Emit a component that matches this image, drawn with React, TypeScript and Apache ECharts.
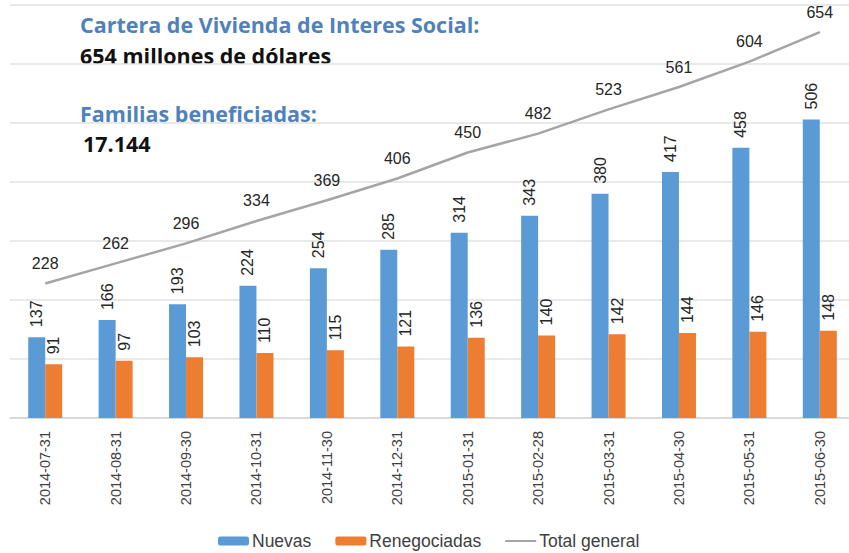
import React, { useEffect, useRef } from "react";
import * as echarts from "echarts";

const categories = [
  "2014-07-31", "2014-08-31", "2014-09-30", "2014-10-31", "2014-11-30", "2014-12-31",
  "2015-01-31", "2015-02-28", "2015-03-31", "2015-04-30", "2015-05-31", "2015-06-30",
];
const nuevas = [137, 166, 193, 224, 254, 285, 314, 343, 380, 417, 458, 506];
const renegociadas = [91, 97, 103, 110, 115, 121, 136, 140, 142, 144, 146, 148];
const totalGeneral = [228, 262, 296, 334, 369, 406, 450, 482, 523, 561, 604, 654];

const titleLines = [
  { text: "Cartera de Vivienda de Interes Social:", color: "#4F81BD", x: 80, y: 24 },
  { text: "654 millones de dólares", color: "#111111", x: 80, y: 55 },
  { text: "Familias beneficiadas:", color: "#4F81BD", x: 80, y: 113 },
  { text: "17.144", color: "#111111", x: 83, y: 143 },
];

const FONT = "Liberation Sans, Arial, sans-serif";

export default function App() {
  const ref = useRef<HTMLDivElement>(null);
  useEffect(() => {
    if (!ref.current) return;
    const chart = echarts.init(ref.current, null, { renderer: "svg" });
    const barLabel = {
      show: true,
      position: "top",
      rotate: 90,
      align: "left",
      verticalAlign: "middle",
      distance: 10,
      fontFamily: FONT,
      fontSize: 16,
      color: "#262626",
    };
    chart.setOption({
      animation: false,
      backgroundColor: "#ffffff",
      grid: { left: 10, width: 845, top: 5, bottom: 135, containLabel: false },
      legend: {
        top: 532,
        left: 218,
        padding: 0,
        itemWidth: 31,
        itemHeight: 9,
        itemGap: 24,
        textStyle: { fontFamily: FONT, fontSize: 17.5, color: "#404040", padding: [0, 0, 0, -2] },
        data: [
          { name: "Nuevas" },
          { name: "Renegociadas" },
          { name: "Total general", icon: "path://M0 0 H31 V2 H0 Z" },
        ],
      },
      xAxis: {
        type: "category",
        data: categories,
        axisLine: { lineStyle: { color: "#d4d4d4", width: 1.5 } },
        axisTick: { show: false },
        axisLabel: {
          rotate: 90,
          margin: 13,
          fontFamily: FONT,
          fontSize: 14.5,
          color: "#404040",
        },
      },
      yAxis: {
        type: "value",
        min: 0,
        max: 700,
        interval: 100,
        axisLabel: { show: false },
        axisLine: { show: false },
        axisTick: { show: false },
        splitLine: { lineStyle: { color: "#e2e2e2", width: 1.5 } },
      },
      series: [
        {
          name: "Nuevas",
          type: "bar",
          data: nuevas,
          barWidth: 17,
          barGap: "0%",
          itemStyle: { color: "#5B9BD5" },
          label: barLabel,
        },
        {
          name: "Renegociadas",
          type: "bar",
          data: renegociadas,
          barWidth: 17,
          barGap: "0%",
          itemStyle: { color: "#ED7D31" },
          label: barLabel,
        },
        {
          name: "Total general",
          type: "line",
          data: totalGeneral,
          symbol: "circle",
          symbolSize: 0.01,
          showSymbol: true,
          lineStyle: { color: "#A5A5A5", width: 2.5 },
          itemStyle: { color: "#A5A5A5" },
          label: {
            show: true,
            position: "top",
            distance: 12,
            fontFamily: FONT,
            fontSize: 16,
            color: "#262626",
          },
        },
      ],
      graphic: titleLines.map((t) => ({
        type: "text",
        x: t.x,
        y: t.y,
        style: {
          text: t.text,
          fill: t.color,
          font: `bold 21.5px "Open Sans", "Noto Sans", sans-serif`,
          verticalAlign: "middle",
          align: "left",
        },
      })),
    });
    return () => chart.dispose();
  }, []);
  return (
    <div
      style={{
        position: "fixed",
        left: 0,
        top: 0,
        width: 849,
        height: 553,
        overflow: "hidden",
        background: "#ffffff",
      }}
    >
      <div ref={ref} style={{ width: 862, height: 553 }} />
    </div>
  );
}
